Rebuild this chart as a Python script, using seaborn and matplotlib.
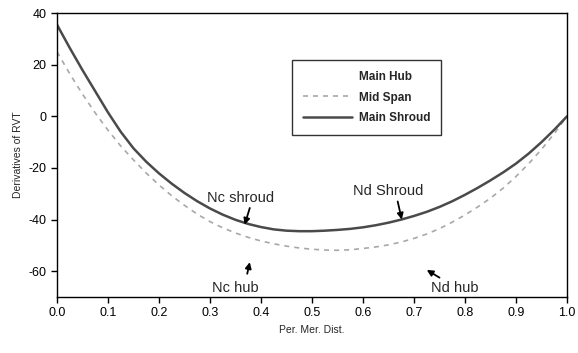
import matplotlib
matplotlib.use("Agg")
import matplotlib.pyplot as plt
from matplotlib.lines import Line2D
import seaborn as sns
import pandas as pd

x_vals = [0.0, 0.025, 0.05, 0.075, 0.1, 0.125, 0.15, 0.175, 0.2, 0.225,
          0.25, 0.275, 0.3, 0.325, 0.35, 0.375, 0.4, 0.425, 0.45, 0.475,
          0.5, 0.525, 0.55, 0.575, 0.6, 0.625, 0.65, 0.675, 0.7, 0.725,
          0.75, 0.775, 0.8, 0.825, 0.85, 0.875, 0.9, 0.925, 0.95, 0.975, 1.0]
shroud = [35.5, 26.5, 17.9, 9.7, 1.5, -6.0, -12.4, -17.6, -22.1, -26.1,
          -29.7, -32.9, -35.7, -38.1, -40.1, -41.7, -42.9, -43.8, -44.3, -44.5,
          -44.5, -44.3, -44.0, -43.6, -43.0, -42.2, -41.2, -40.0, -38.6, -37.0,
          -35.1, -32.9, -30.4, -27.7, -24.8, -21.7, -18.3, -14.4, -10.0, -5.2, 0]
mid_span = [25, 16.5, 8.6, 1.3, -5.4, -11.5, -16.9, -22.0, -26.6, -30.8,
            -34.5, -37.9, -40.8, -43.2, -45.2, -46.9, -48.3, -49.4, -50.3, -51.0,
            -51.5, -51.8, -51.9, -51.7, -51.2, -50.6, -49.8, -48.7, -47.3, -45.6,
            -43.5, -41.0, -38.2, -35.1, -31.7, -27.8, -23.3, -18.3, -12.8, -6.7, 0]
series_names = ["Main Hub", "Mid Span", "Main Shroud"]
x_ticks = [0.0, 0.1, 0.2, 0.3, 0.4, 0.5, 0.6, 0.7, 0.8, 0.9, 1.0]
y_ticks = [-60, -40, -20, 0, 20, 40]

sns.set_style("ticks")
plt.rcParams['font.family'] = ['Liberation Sans', 'DejaVu Sans']
plt.rcParams['axes.unicode_minus'] = False

fig = plt.figure(figsize=(5.78, 3.53), dpi=100)
ax = fig.add_axes([0.0986, 0.1586, 0.8824, 0.8044])

df_mid = pd.DataFrame({"x": x_vals, "y": mid_span})
df_sh = pd.DataFrame({"x": x_vals, "y": shroud})
sns.lineplot(data=df_mid, x="x", y="y", ax=ax, color="#a8a8a8", lw=1.2,
             linestyle=(0, (3, 3)), legend=False)
sns.lineplot(data=df_sh, x="x", y="y", ax=ax, color="#4a4a4a", lw=1.8, legend=False)

ax.set_xlim(0, 1)
ax.set_ylim(-70, 40)
ax.set_xticks(x_ticks)
ax.set_xticklabels([f"{t:.1f}" for t in x_ticks])
ax.set_yticks(y_ticks)
ax.tick_params(direction="out", length=4, width=1, labelsize=9, colors="black")
for s in ax.spines.values():
    s.set_color("black")
    s.set_linewidth(1.0)
ax.set_xlabel("Per. Mer. Dist.", fontsize=7.5, labelpad=4)
ax.set_ylabel("Derivatives of RVT", fontsize=7.5, labelpad=4)

handles = [Line2D([], [], linestyle="none"),
           Line2D([], [], color="#a8a8a8", lw=1.2, linestyle=(0, (3, 3))),
           Line2D([], [], color="#4a4a4a", lw=1.8)]
leg = ax.legend(handles, series_names, loc="upper left",
                bbox_to_anchor=(0.449, 0.855), fontsize=8.5, frameon=True,
                fancybox=False, edgecolor="black", handlelength=4.2,
                borderpad=0.9, labelspacing=0.75, handletextpad=0.6)
leg.get_frame().set_linewidth(1.0)
for t in leg.get_texts():
    t.set_fontweight("bold")

arr = dict(arrowstyle="-|>", color="black", lw=1.3, mutation_scale=9,
           shrinkA=0, shrinkB=0)
ax.text(0.36, -31.5, "Nc shroud", fontsize=10.5, ha="center", va="center")
ax.annotate("", xy=(0.368, -42.0), xytext=(0.378, -35.5), arrowprops=arr)
ax.text(0.65, -29, "Nd Shroud", fontsize=10.5, ha="center", va="center")
ax.annotate("", xy=(0.676, -40), xytext=(0.668, -33), arrowprops=arr)
ax.text(0.35, -66.5, "Nc hub", fontsize=10.5, ha="center", va="center")
ax.annotate("", xy=(0.378, -56.5), xytext=(0.373, -61), arrowprops=arr)
ax.text(0.78, -66.5, "Nd hub", fontsize=10.5, ha="center", va="center")
ax.annotate("", xy=(0.725, -59.5), xytext=(0.75, -62.5), arrowprops=arr)

fig.savefig("out.png", dpi=100)
